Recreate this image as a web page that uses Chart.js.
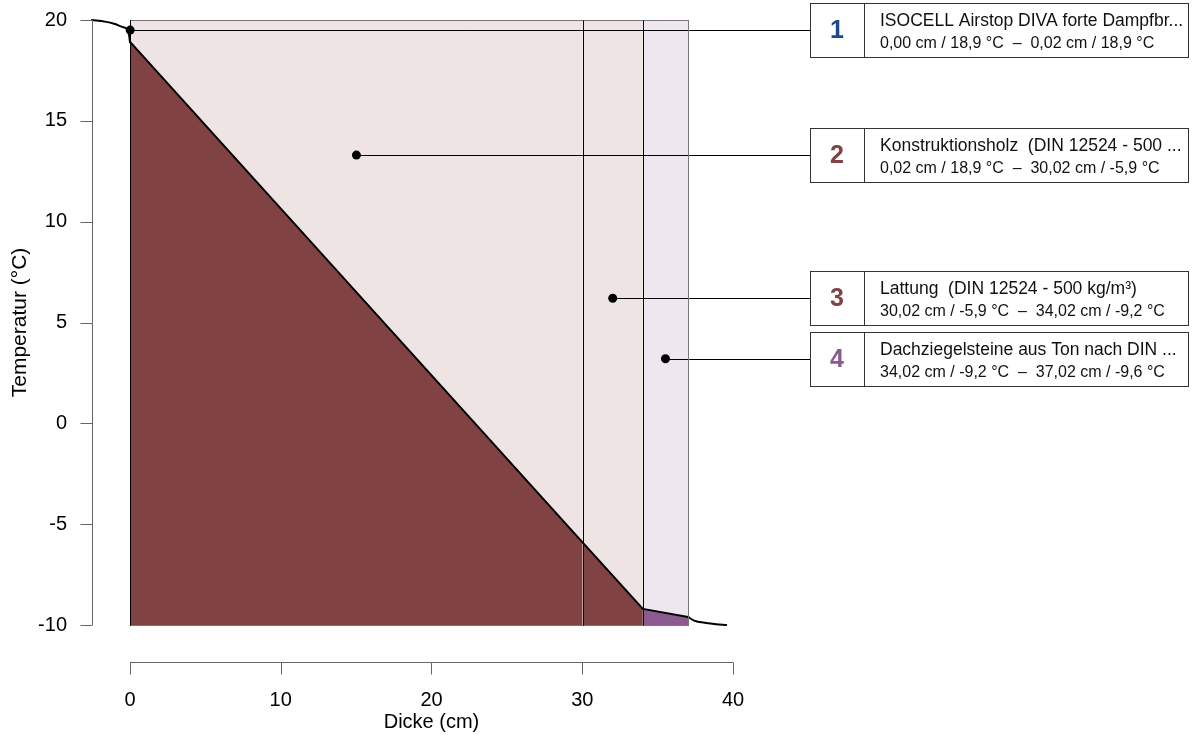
<!DOCTYPE html>
<html>
<head>
<meta charset="utf-8">
<script src="https://cdn.jsdelivr.net/npm/chart.js@4/dist/chart.umd.min.js"></script>
<style>
    body { margin: 0; background: #fff; }
</style>
</head>
<body>
<canvas id="chart" width="1192" height="735"></canvas>
<script>
const FONT = '"Liberation Sans", Arial, sans-serif';

// Layers of the wall build-up (inside -> outside)
const layerNames = [
    'ISOCELL Airstop DIVA forte Dampfbr...',
    'Konstruktionsholz  (DIN 12524 - 500 ...',
    'Lattung  (DIN 12524 - 500 kg/m³)',
    'Dachziegelsteine aus Ton nach DIN ...',
];
const layerFrom = [0, 0.02, 30.02, 34.02];
const layerTo = [0.02, 30.02, 34.02, 37.02];
const tempFrom = [18.9, 18.9, -5.9, -9.2];
const tempTo = [18.9, -5.9, -9.2, -9.6];
const labelTemps = [19.5, 13.3, 6.2, 3.2];
const layerBg = ['#efe4e4', '#efe4e4', '#efe4e4', '#efe7ef'];
const layerInk = ['#1d4a86', '#804242', '#804242', '#8b5a90'];

// Surface transfer zones
const insideX = [-2.52, -1.66, -1.0, -0.44, -0.11, 0];
const insideT = [20, 19.92, 19.8, 19.64, 19.47, 18.9];
const outsideX = [37.02, 37.42, 38.22, 38.88, 39.55];
const outsideT = [-9.6, -9.78, -9.9, -9.96, -10];

const xTicks = [0, 10, 20, 30, 40];
const yTicks = [-10, -5, 0, 5, 10, 15, 20];

const fmt = (v, d) => v.toFixed(d).replace('.', ',');
const zip = (xs, ys) => xs.map((x, i) => ({ x, y: ys[i] }));

const lineStyle = {
    showLine: true,
    pointRadius: 0,
    borderColor: '#000',
    borderWidth: 2,
    borderCapStyle: 'round',
    borderJoinStyle: 'round',
    clip: false,
};

const datasets = [
    { ...lineStyle, data: zip(insideX, insideT), cubicInterpolationMode: 'monotone', fill: false },
    ...layerFrom.map((a, i) => ({
        ...lineStyle,
        data: [{ x: a, y: tempFrom[i] }, { x: layerTo[i], y: tempTo[i] }],
        backgroundColor: layerInk[i],
        fill: { value: yTicks[0] },
    })),
    { ...lineStyle, data: zip(outsideX, outsideT), cubicInterpolationMode: 'monotone', fill: false },
    {
        data: labelTemps.map((t, i) => ({ x: (layerFrom[i] + layerTo[i]) / 2, y: t })),
        showLine: false,
        pointRadius: 4.5,
        backgroundColor: '#000',
        borderWidth: 0,
        clip: false,
    },
];

const BOX_L = 810, BOX_R = 1188, BOX_H = 54, BOX_DIV = 864;

const layersPlugin = {
    id: 'layers',
    beforeDatasetsDraw(chart) {
        const { ctx, scales: { x, y } } = chart;
        const top = y.getPixelForValue(yTicks[yTicks.length - 1]);
        const bottom = y.getPixelForValue(yTicks[0]);
        ctx.save();
        layerFrom.forEach((a, i) => {
            const l = x.getPixelForValue(a), r = x.getPixelForValue(layerTo[i]);
            ctx.fillStyle = layerBg[i];
            ctx.fillRect(l, top, r - l, bottom - top);
        });
        // leader lines from each marker to its label box
        ctx.strokeStyle = '#000';
        ctx.lineWidth = 1;
        labelTemps.forEach((t, i) => {
            const py = Math.round(y.getPixelForValue(t)) + 0.5;
            ctx.beginPath();
            ctx.moveTo(x.getPixelForValue((layerFrom[i] + layerTo[i]) / 2), py);
            ctx.lineTo(BOX_L, py);
            ctx.stroke();
        });
        ctx.restore();
    },
    afterDatasetsDraw(chart) {
        const { ctx, scales: { x, y } } = chart;
        const top = Math.round(y.getPixelForValue(yTicks[yTicks.length - 1])) + 0.5;
        const bottom = Math.round(y.getPixelForValue(yTicks[0])) + 0.5;
        const l = Math.round(x.getPixelForValue(layerFrom[0])) + 0.5;
        const r = Math.round(x.getPixelForValue(layerTo[layerTo.length - 1])) + 0.5;
        ctx.save();
        ctx.lineWidth = 1;
        ctx.strokeStyle = '#777';
        ctx.strokeRect(l, top, r - l, bottom - top);
        ctx.strokeStyle = '#000';
        layerFrom.forEach((a) => {
            const px = Math.round(x.getPixelForValue(a)) + 0.5;
            ctx.beginPath();
            ctx.moveTo(px, top);
            ctx.lineTo(px, bottom);
            ctx.stroke();
        });
        ctx.restore();
    },
    afterDraw(chart) {
        const { ctx, chartArea, scales: { x, y } } = chart;
        ctx.save();
        // R-style detached axes
        ctx.strokeStyle = '#666';
        ctx.lineWidth = 1;
        const ax = chartArea.left + 0.5;
        ctx.beginPath();
        ctx.moveTo(ax, y.getPixelForValue(yTicks[0]));
        ctx.lineTo(ax, y.getPixelForValue(yTicks[yTicks.length - 1]));
        yTicks.forEach((v) => {
            const py = Math.round(y.getPixelForValue(v)) + 0.5;
            ctx.moveTo(ax - 12, py);
            ctx.lineTo(ax, py);
        });
        const ay = chartArea.bottom + 37.5;
        ctx.moveTo(x.getPixelForValue(xTicks[0]), ay);
        ctx.lineTo(x.getPixelForValue(xTicks[xTicks.length - 1]), ay);
        xTicks.forEach((v) => {
            const px = Math.round(x.getPixelForValue(v)) + 0.5;
            ctx.moveTo(px, ay);
            ctx.lineTo(px, ay + 12);
        });
        ctx.stroke();

        // label boxes
        labelTemps.forEach((t, i) => {
            const cy = y.getPixelForValue(t);
            const bt = Math.round(cy - BOX_H / 2) + 0.5;
            ctx.fillStyle = '#fff';
            ctx.fillRect(BOX_L, bt, BOX_R - BOX_L, BOX_H);
            ctx.strokeStyle = '#333';
            ctx.strokeRect(BOX_L + 0.5, bt, BOX_R - BOX_L, BOX_H);
            ctx.beginPath();
            ctx.moveTo(BOX_DIV + 0.5, bt);
            ctx.lineTo(BOX_DIV + 0.5, bt + BOX_H);
            ctx.stroke();

            ctx.textBaseline = 'middle';
            ctx.textAlign = 'center';
            ctx.fillStyle = layerInk[i];
            ctx.font = `bold 25px ${FONT}`;
            ctx.fillText(String(i + 1), (BOX_L + BOX_DIV) / 2, cy + 1);

            ctx.textAlign = 'left';
            ctx.fillStyle = '#111';
            ctx.font = `17.5px ${FONT}`;
            ctx.fillText(layerNames[i], BOX_DIV + 16, cy - 9);
            ctx.font = `16px ${FONT}`;
            const sub = `${fmt(layerFrom[i], 2)} cm / ${fmt(tempFrom[i], 1)} °C  \u2013  ${fmt(layerTo[i], 2)} cm / ${fmt(tempTo[i], 1)} °C`;
            ctx.fillText(sub, BOX_DIV + 16, cy + 13.5);
        });
        ctx.restore();
    },
};

const noScalePadding = (s) => {
    s.paddingTop = 0;
    s.paddingBottom = 0;
    s.paddingLeft = 0;
    s.paddingRight = 0;
};

new Chart(document.getElementById('chart'), {
    type: 'scatter',
    data: { datasets },
    plugins: [layersPlugin],
    options: {
        responsive: false,
        animation: false,
        devicePixelRatio: 1,
        layout: { padding: { top: 20, right: 421, left: 0, bottom: 0 } },
        plugins: { legend: { display: false }, tooltip: { enabled: false } },
        scales: {
            x: {
                type: 'linear',
                min: -2.52,
                max: 42.52,
                grid: { display: false, drawTicks: false },
                border: { display: false },
                afterBuildTicks: (s) => { s.ticks = xTicks.map((v) => ({ value: v })); },
                afterFit: (s) => { s.height = 110; noScalePadding(s); },
                ticks: { padding: 63, color: '#000', font: { family: FONT, size: 20 } },
                title: {
                    display: true, text: 'Dicke (cm)', color: '#000',
                    font: { family: FONT, size: 20 }, padding: { top: 0, bottom: 1 },
                },
            },
            y: {
                type: 'linear',
                min: -10,
                max: 20,
                grid: { display: false, drawTicks: false },
                border: { display: false },
                afterBuildTicks: (s) => { s.ticks = yTicks.map((v) => ({ value: v })); },
                afterFit: (s) => { s.width = 92; noScalePadding(s); },
                ticks: { padding: 25, color: '#000', font: { family: FONT, size: 20 } },
                title: {
                    display: true, text: 'Temperatur (°C)', color: '#000',
                    font: { family: FONT, size: 21 }, padding: { top: 8, bottom: 0 },
                },
            },
        },
    },
});
</script>
</body>
</html>
